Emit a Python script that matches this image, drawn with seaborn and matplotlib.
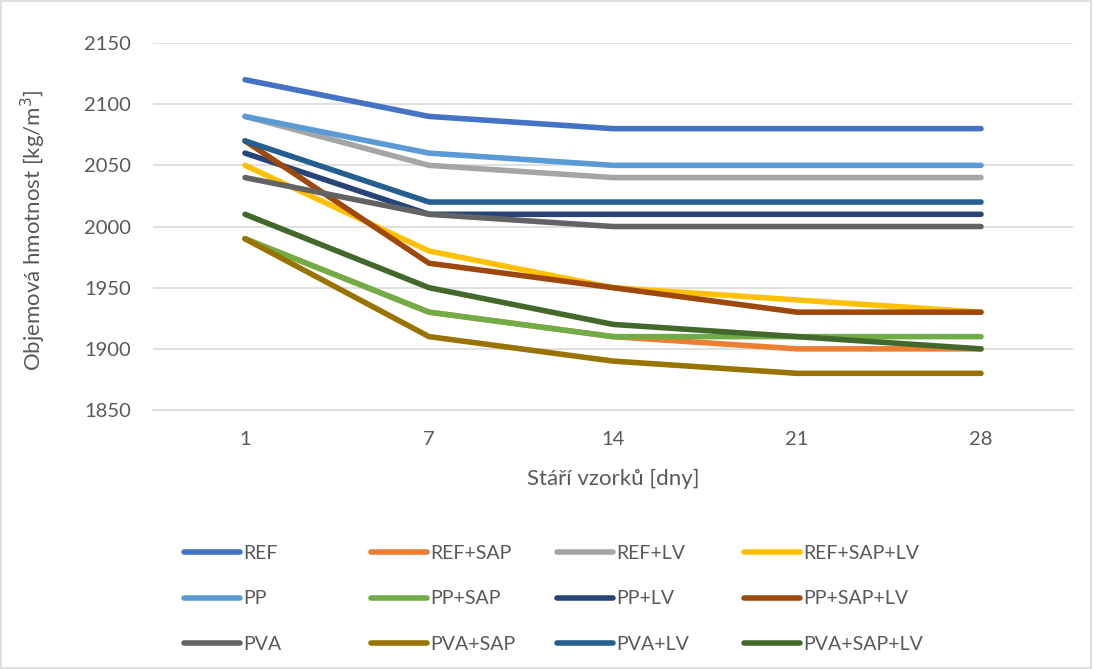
import matplotlib
matplotlib.use("Agg")
import matplotlib.pyplot as plt
import seaborn as sns
import pandas as pd
from matplotlib.patches import Rectangle

days = ["1", "7", "14", "21", "28"]
series_names = ["REF", "REF+SAP", "REF+LV", "REF+SAP+LV",
                "PP", "PP+SAP", "PP+LV", "PP+SAP+LV",
                "PVA", "PVA+SAP", "PVA+LV", "PVA+SAP+LV"]
ref = [2120, 2090, 2080, 2080, 2080]
ref_sap = [1990, 1930, 1910, 1900, 1900]
ref_lv = [2090, 2050, 2040, 2040, 2040]
ref_sap_lv = [2050, 1980, 1950, 1940, 1930]
pp = [2090, 2060, 2050, 2050, 2050]
pp_sap = [1990, 1930, 1910, 1910, 1910]
pp_lv = [2060, 2010, 2010, 2010, 2010]
pp_sap_lv = [2070, 1970, 1950, 1930, 1930]
pva = [2040, 2010, 2000, 2000, 2000]
pva_sap = [1990, 1910, 1890, 1880, 1880]
pva_lv = [2070, 2020, 2020, 2020, 2020]
pva_sap_lv = [2010, 1950, 1920, 1910, 1900]
values = [ref, ref_sap, ref_lv, ref_sap_lv, pp, pp_sap, pp_lv, pp_sap_lv,
          pva, pva_sap, pva_lv, pva_sap_lv]
colors = ["#4472C4", "#ED7D31", "#A5A5A5", "#FFC000",
          "#5B9BD5", "#70AD47", "#264478", "#9E480E",
          "#636363", "#997300", "#255E91", "#43682B"]

rows = []
for name, vals in zip(series_names, values):
    for d, v in zip(days, vals):
        rows.append({"den": d, "hodnota": v, "serie": name})
df = pd.DataFrame(rows)

sns.set_theme(style="white")
plt.rcParams["font.family"] = ["Lato", "DejaVu Sans"]
text_col = "#595959"
LW = 4.0

fig = plt.figure(figsize=(10.93, 6.69), dpi=100)
ax = fig.add_axes([0.14, 0.3871, 0.8417, 0.5486])

sns.lineplot(data=df, x="den", y="hodnota", hue="serie", hue_order=series_names,
             palette=colors, sort=False, linewidth=LW, ax=ax, legend=True)
for ln in ax.get_lines():
    ln.set_solid_capstyle("round")
    ln.set_solid_joinstyle("round")

ax.set_xlim(-0.5, 4.5)
ax.set_ylim(1850, 2150)
ax.set_yticks(range(1850, 2151, 50))
ax.yaxis.grid(True, color="#D9D9D9", linewidth=1.2)
ax.set_axisbelow(True)
for s in ["left", "right", "top"]:
    ax.spines[s].set_visible(False)
ax.spines["bottom"].set_color("#D9D9D9")
ax.spines["bottom"].set_linewidth(1.2)
ax.tick_params(axis="both", length=0, labelsize=14.5, colors=text_col)
ax.tick_params(axis="x", pad=15)
ax.tick_params(axis="y", pad=16)
ax.set_xlabel("Stáří vzorků [dny]", fontsize=16, color=text_col, labelpad=15)
ax.set_ylabel("Objemová hmotnost [kg/m$^3$]", fontsize=16, color=text_col)
ax.yaxis.set_label_coords(-0.114, 0.49)

handles, labels = ax.get_legend_handles_labels()
ax.get_legend().remove()
col_x = [184, 371, 557, 744]
for c in range(4):
    idx = [c, c + 4, c + 8]
    leg = fig.legend([handles[i] for i in idx], [labels[i] for i in idx],
                     ncol=1, loc="upper left",
                     bbox_to_anchor=(col_x[c] / 1093.0, 1 - 545 / 669.0),
                     frameon=False, fontsize=14, handlelength=2.9, handletextpad=0.15,
                     labelspacing=1.46, labelcolor=text_col,
                     borderpad=0, borderaxespad=0)
    for h in leg.get_lines():
        h.set_linewidth(LW)
        h.set_solid_capstyle("round")

fig.patches.append(Rectangle((0.001, 0.001), 0.997, 0.997, transform=fig.transFigure,
                             fill=False, edgecolor="#D9D9D9", linewidth=1.2))

fig.savefig("out.png", dpi=100)
